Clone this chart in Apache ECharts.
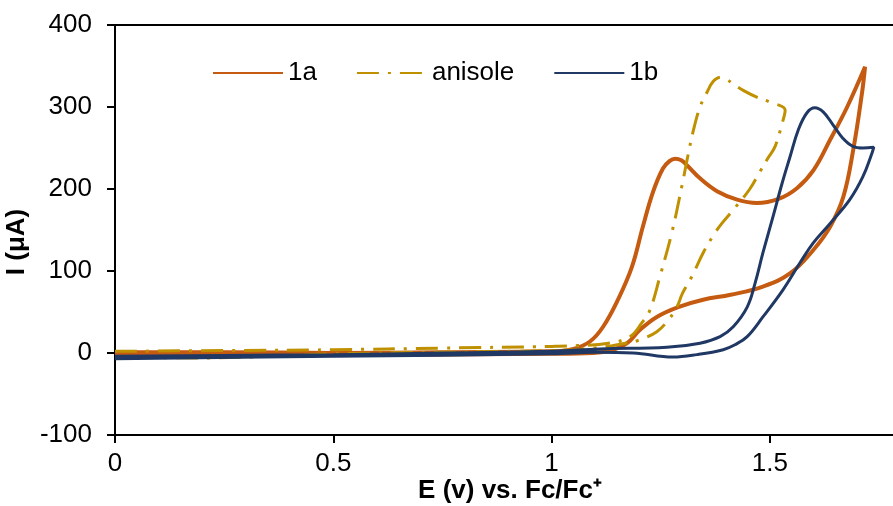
<!DOCTYPE html>
<html>
<head>
<meta charset="utf-8">
<script src="https://cdn.jsdelivr.net/npm/echarts@6/dist/echarts.min.js"></script>
<style>
html,body{margin:0;padding:0;background:#fff;}
#chart{width:893px;height:506px;}
</style>
</head>
<body>
<div id="chart"></div>
<script>
// ---- data (E in V vs Fc/Fc+, I in µA) ----
const seriesNames = ['1a', 'anisole', '1b'];
const xTicks = [0, 0.5, 1, 1.5];
const xMax = 1.782;   // visible right end of the cropped plot area
const yTicks = [-100, 0, 100, 200, 300, 400];

const e1a = [0, 0.25, 0.5, 0.75, 1.0, 1.05, 1.088, 1.118, 1.152, 1.184, 1.209, 1.232, 1.255, 1.27, 1.283, 1.297, 1.31, 1.34, 1.38, 1.425, 1.47, 1.52, 1.562, 1.6, 1.638, 1.677, 1.718,
  1.711, 1.691, 1.668, 1.638, 1.6, 1.546, 1.484, 1.41, 1.347, 1.29, 1.241, 1.202, 1.173, 1.141, 1.095, 1.0, 0.5, 0];
const i1a = [1, 1, 0, 1, 2, 5, 14, 32, 65, 105, 154, 196, 225, 234, 237, 235, 229, 213, 197, 187, 183, 188, 201, 223, 260, 300, 349,
  317, 248, 190, 154, 126, 97, 81, 71, 65, 56, 44, 28, 12, 4, 0, -1, -2, -1];

const eAn = [0, 0.25, 0.5, 0.75, 1.0, 1.06, 1.13, 1.18, 1.207, 1.225, 1.248, 1.276, 1.299, 1.312, 1.325, 1.34, 1.356, 1.37, 1.385, 1.4, 1.416, 1.44, 1.47, 1.5, 1.535,
  1.528, 1.512, 1.496, 1.476, 1.454, 1.42, 1.39, 1.37, 1.347, 1.321, 1.3, 1.287, 1.267, 1.241, 1.202, 1.17, 1.1, 1.0, 0.5, 0.2, 0];
const iAn = [2, 3, 4, 6, 8, 9, 12, 20, 37, 52, 93, 148, 205, 240, 272, 300, 318, 331, 336, 334, 328, 320, 312, 306, 296,
  280, 252, 238, 220, 200, 177, 158, 143, 122, 93, 73, 56, 40, 26, 16, 12, 6, 3, -1, -6, -5];

const e1b = [0, 0.25, 0.5, 0.75, 1.0, 1.11, 1.264, 1.34, 1.386, 1.416, 1.448, 1.466, 1.484, 1.507, 1.528, 1.546, 1.565, 1.585, 1.603, 1.622, 1.645, 1.667, 1.69, 1.713, 1.738,
  1.734, 1.713, 1.683, 1.638, 1.599, 1.569, 1.53, 1.484, 1.448, 1.42, 1.393, 1.333, 1.278, 1.187, 1.1, 1.0, 0.5, 0];
const i1b = [-4, -3, -2, 0, 2, 5, 7, 12, 20, 32, 56, 85, 122, 166, 207, 239, 272, 293, 299, 294, 278, 262, 252, 250, 251,
  244, 215, 187, 158, 134, 110, 77, 44, 20, 10, 4, -2, -5, 0, 1, -1, -4, -7];

const colors = ['#C55A11', '#BF9000', '#203864'];

function pairs(xs, ys) { return xs.map((x, k) => [x, ys[k]]); }

const chart = echarts.init(document.getElementById('chart'));
const FONT = '"Liberation Sans", Arial, sans-serif';
const FS = 26;

chart.setOption({
  animation: false,
  textStyle: { fontFamily: FONT },
  grid: { left: 115, top: 25, bottom: 71, right: 0 },
  legend: {
    left: 212, top: 60, padding: 0,
    itemWidth: 70, itemHeight: 14, itemGap: 39,
    data: seriesNames,
    itemStyle: { opacity: 0 },
    textStyle: { fontSize: FS, color: '#000', fontFamily: FONT, padding: [0, 1, 0, 0] }
  },
  xAxis: [{
    type: 'value', min: xTicks[0], max: xMax, interval: 0.5,
    axisLine: { onZero: false, lineStyle: { color: '#000', width: 2 } },
    axisTick: { show: true, inside: false, length: 8, lineStyle: { color: '#000', width: 2 } },
    axisLabel: { fontSize: FS, color: '#000', margin: 16, fontFamily: FONT, showMaxLabel: false, formatter: v => String(v) },
    splitLine: { show: false }
  }, {
    type: 'value', position: 'top', min: xTicks[0], max: xMax, interval: 0.5,
    axisLine: { onZero: false, lineStyle: { color: '#000', width: 2 } },
    axisTick: { show: false }, axisLabel: { show: false }, splitLine: { show: false }
  }],
  yAxis: {
    type: 'value', min: yTicks[0], max: yTicks[yTicks.length - 1], interval: 100,
    axisLine: { show: true, onZero: false, lineStyle: { color: '#000', width: 2 } },
    axisTick: { show: true, inside: false, length: 8, lineStyle: { color: '#000', width: 2 } },
    axisLabel: { fontSize: FS, color: '#000', margin: 23, fontFamily: FONT },
    splitLine: { show: false }
  },
  graphic: [
    { type: 'text', position: [510, 491], style: { text: 'E (v) vs. Fc/Fc⁺', font: 'bold ' + FS + 'px ' + FONT, fill: '#000', textAlign: 'center', textVerticalAlign: 'middle' } },
    { type: 'text', rotation: Math.PI / 2, position: [17, 242], style: { text: 'I (μA)', font: 'bold ' + FS + 'px ' + FONT, fill: '#000', textAlign: 'center', textVerticalAlign: 'middle' } }
  ],
  series: [
    { name: seriesNames[0], type: 'line', data: pairs(e1a, i1a), smooth: 0.4, symbol: 'none', lineStyle: { color: colors[0], width: 4 }, itemStyle: { color: colors[0] } },
    { name: seriesNames[1], type: 'line', data: pairs(eAn, iAn), smooth: 0.4, symbol: 'none', lineStyle: { color: colors[1], width: 3, type: [22, 9, 3, 9] }, itemStyle: { color: colors[1] } },
    { name: seriesNames[2], type: 'line', data: pairs(e1b, i1b), smooth: 0.4, symbol: 'none', lineStyle: { color: colors[2], width: 3 }, itemStyle: { color: colors[2] } }
  ]
});
</script>
</body>
</html>
